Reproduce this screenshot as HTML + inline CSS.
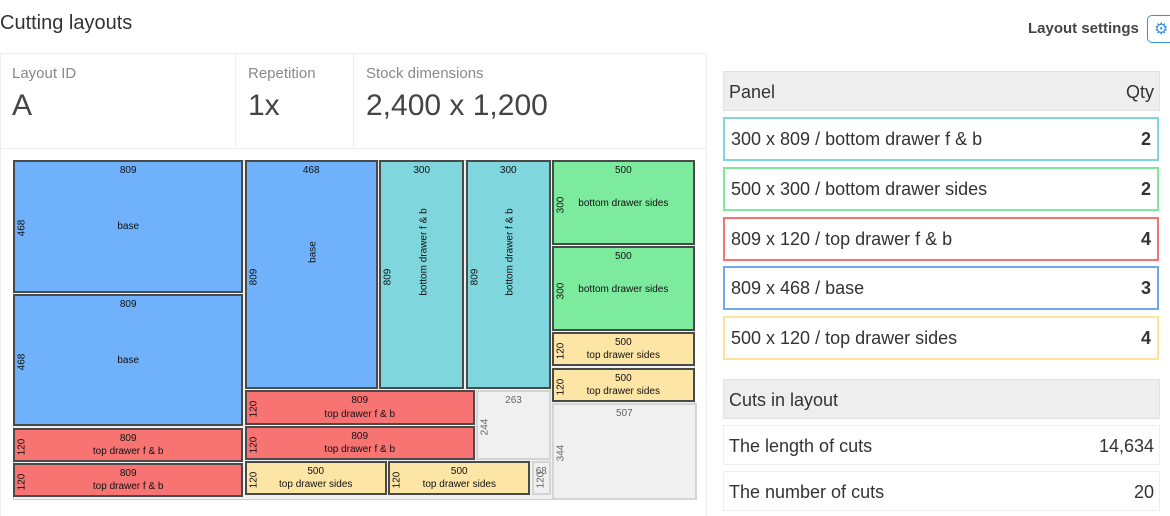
<!DOCTYPE html>
<html><head><meta charset="utf-8"><style>
body{margin:0;width:1170px;height:516px;overflow:hidden;background:#fff;font-family:"Liberation Sans",sans-serif;color:#333;position:relative}
.a{position:absolute}
.lbl{color:#888;font-size:15px}
.val{font-size:30px;color:#444}
.row{position:absolute;left:723px;width:432px;height:40px;border:2px solid;box-sizing:content-box;font-size:18px;color:#333}
.row span{position:absolute;top:10px}
.pc{position:absolute;box-sizing:border-box;border:2px solid #4a4a4a;font-size:10px;color:#111;overflow:hidden}
.pc div{position:absolute;white-space:nowrap}
</style></head><body>
<div class="a" style="left:0;top:12px;font-size:20px;color:#333">Cutting layouts</div>
<div class="a" style="left:1028px;top:20px;font-size:15px;font-weight:bold;color:#444">Layout settings</div>
<div class="a" style="left:1147px;top:15px;width:30px;height:28px;border:1.5px solid #3b8fe8;border-radius:5px;color:#3b8fe8;font-size:16px;line-height:28px;padding-left:6px;box-sizing:border-box">⚙</div>
<div class="a" style="left:0;top:53px;width:706px;height:1px;background:#eee"></div>
<div class="a" style="left:706px;top:53px;width:1px;height:463px;background:#eee"></div>
<div class="a" style="left:235px;top:53px;width:1px;height:95px;background:#eee"></div>
<div class="a" style="left:353px;top:53px;width:1px;height:95px;background:#eee"></div>
<div class="a" style="left:0;top:148px;width:706px;height:1px;background:#eee"></div>
<div class="a" style="left:0;top:53px;width:1px;height:463px;background:#eee"></div>
<div class="a lbl" style="left:12px;top:65px">Layout ID</div>
<div class="a val" style="left:12px;top:89px">A</div>
<div class="a lbl" style="left:248px;top:65px">Repetition</div>
<div class="a val" style="left:248px;top:89px">1x</div>
<div class="a lbl" style="left:366px;top:65px">Stock dimensions</div>
<div class="a val" style="left:366px;top:89px">2,400 x 1,200</div>
<div class="a" id="sheet" style="left:13px;top:160px;width:682px;height:340px;background:#f0f0f0;border:1px solid #ccc;box-sizing:border-box"></div>

<div class="a" style="left:723px;top:71px;width:437px;height:40px;background:#eee;border:1px solid #e2e2e2;box-sizing:border-box;font-size:18px"><span style="position:absolute;left:5px;top:10px">Panel</span><span style="position:absolute;right:5px;top:10px">Qty</span></div>
<div class="row" style="top:117px;border-color:#7fd6dc"><span style="left:6px">300 x 809 / bottom drawer f &amp; b</span><span style="right:6px;font-weight:bold">2</span></div>
<div class="row" style="top:167px;border-color:#7de89b"><span style="left:6px">500 x 300 / bottom drawer sides</span><span style="right:6px;font-weight:bold">2</span></div>
<div class="row" style="top:217px;border-color:#f47373"><span style="left:6px">809 x 120 / top drawer f &amp; b</span><span style="right:6px;font-weight:bold">4</span></div>
<div class="row" style="top:266px;border-color:#6fa8f0"><span style="left:6px">809 x 468 / base</span><span style="right:6px;font-weight:bold">3</span></div>
<div class="row" style="top:316px;border-color:#fce49b"><span style="left:6px">500 x 120 / top drawer sides</span><span style="right:6px;font-weight:bold">4</span></div>
<div class="a" style="left:723px;top:379px;width:437px;height:40px;background:#eee;border:1px solid #e2e2e2;box-sizing:border-box;font-size:18px"><span style="position:absolute;left:5px;top:10px">Cuts in layout</span></div>
<div class="a" style="left:723px;top:425px;width:437px;height:40px;border:1px solid #eee;box-sizing:border-box;font-size:18px"><span style="position:absolute;left:5px;top:10px">The length of cuts</span><span style="position:absolute;right:5px;top:10px">14,634</span></div>
<div class="a" style="left:723px;top:471px;width:437px;height:40px;border:1px solid #eee;box-sizing:border-box;font-size:18px"><span style="position:absolute;left:5px;top:10px">The number of cuts</span><span style="position:absolute;right:5px;top:10px">20</span></div>

<script>
const pieceX=[0,0,0,0,813,1285,1589,1893,1893,1893,1893,1893,813,813,1626,813,1317,1821];
const pieceY=[0,472,944,1068,0,0,0,0,304,608,732,856,813,937,813,1061,1061,1061];
const pieceW=[809,809,809,809,468,300,300,500,500,500,500,507,809,809,263,500,500,68];
const pieceH=[468,468,120,120,809,809,809,300,300,120,120,344,120,120,244,120,120,120];
const pieceName=["base","base","top drawer f & b","top drawer f & b","base","bottom drawer f & b","bottom drawer f & b","bottom drawer sides","bottom drawer sides","top drawer sides","top drawer sides","","top drawer f & b","top drawer f & b","","top drawer sides","top drawer sides",""];
const colors={"base":"#6fb2fb","bottom drawer f & b":"#7fd7dd","bottom drawer sides":"#7deb9d","top drawer f & b":"#f77473","top drawer sides":"#fde5a6","":"#f0f0f0"};
const sx=v=>v*0.2848, sy=v=>v*0.2835;
const sheet=document.getElementById('sheet');
for(let i=0;i<pieceX.length;i++){
  const d=document.createElement('div');
  
  
  d.className='pc';
  const w=sx(pieceW[i]),h=sy(pieceH[i]);
  const waste=!pieceName[i];
  Object.assign(d.style,{left:sx(pieceX[i])-1+'px',top:sy(pieceY[i])-1+'px',width:w+'px',height:h+'px',background:colors[pieceName[i]],borderColor:waste?'#d4d4d4':'#4a4a4a',color:waste?'#666':'#111'});
  const t=document.createElement('div');t.textContent=pieceW[i];
  t.style.cssText='left:0;right:0;text-align:center;top:3px';d.appendChild(t);
  const l=document.createElement('div');l.textContent=pieceH[i];
  l.style.cssText=`left:2px;top:${h/2}px;transform:translate(0,-50%) rotate(-90deg);transform-origin:center;width:20px;text-align:center;margin-left:-5px`;
  d.appendChild(l);
  if(!waste){
    const n=document.createElement('div');n.textContent=pieceName[i];
    if(w<h*0.7&&h>150){n.style.cssText=`left:${w/2}px;top:${h/2-25}px;transform:translate(-50%,-50%) rotate(-90deg)`;}
    else if(h<40){n.style.cssText='left:0;right:0;text-align:center;bottom:3px';}
    else{n.style.cssText=`left:0;right:0;text-align:center;top:${h/2-7}px`;}
    d.appendChild(n);
  }
  sheet.appendChild(d);
}
</script>
</body></html>
